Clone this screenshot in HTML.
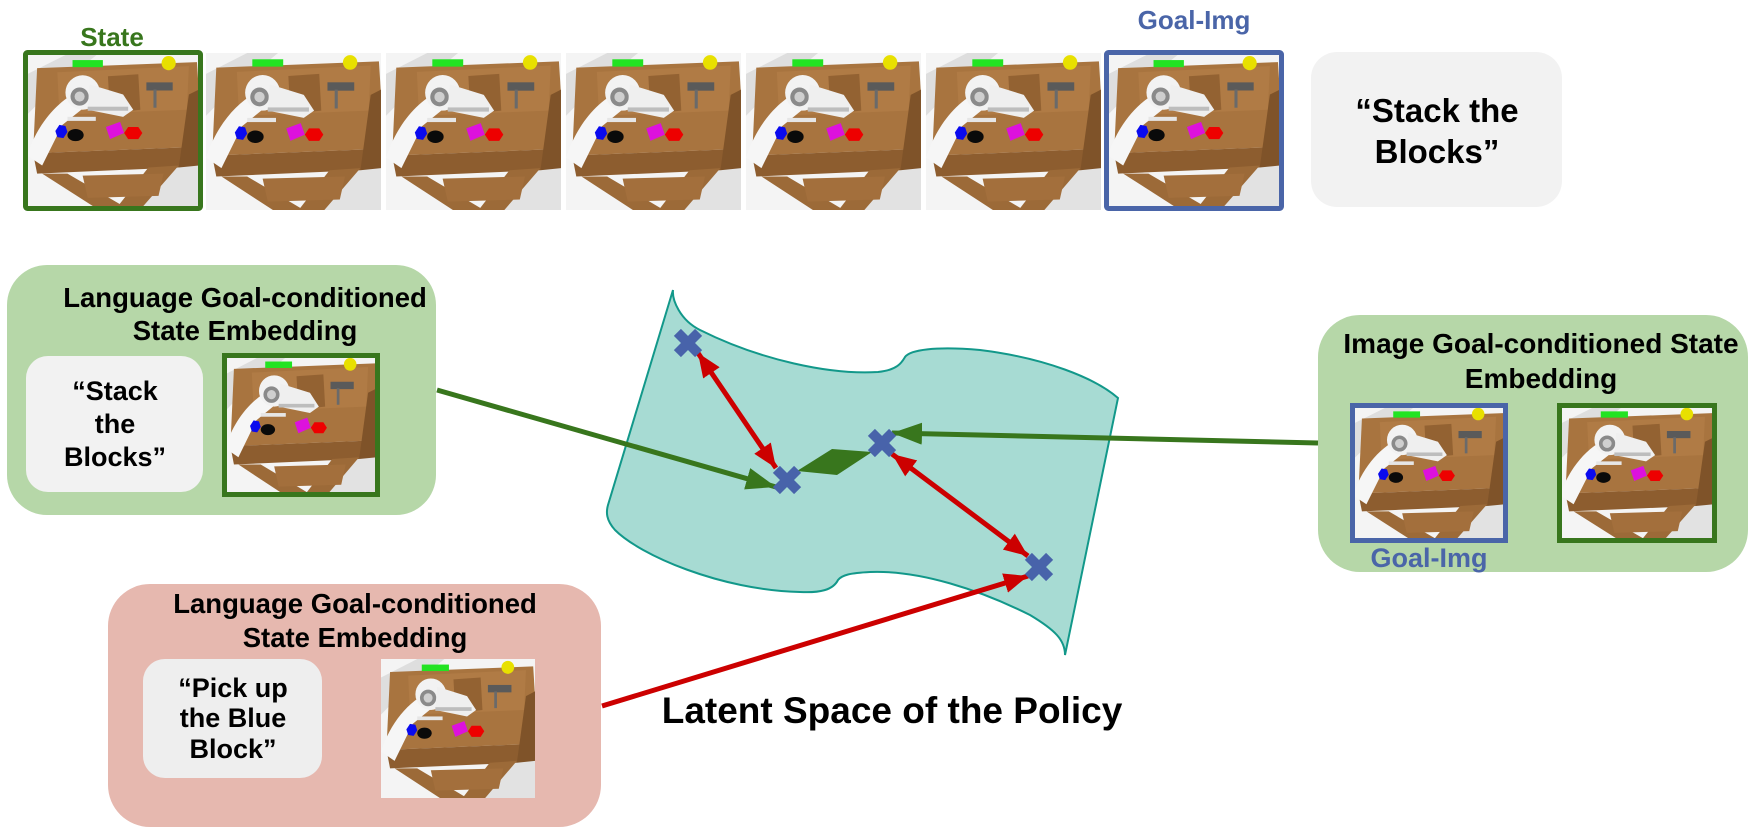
<!DOCTYPE html>
<html><head><meta charset="utf-8"><style>
html,body{margin:0;padding:0;background:#fff;}
svg{display:block;font-family:"Liberation Sans",Arial,sans-serif;font-weight:bold;}
</style></head><body>
<svg width="1757" height="836" viewBox="0 0 1757 836" xmlns="http://www.w3.org/2000/svg">
<defs>
  <g id="scene">
    <rect x="0" y="0" width="170" height="150" fill="#f4f4f4"/>
    <polygon points="0,20 40,0 70,0 20,40 0,60" fill="#dedede"/>
    <polygon points="110,150 150,110 170,110 170,150" fill="#e2e2e2"/>
    <polygon points="10,14 168,8 170,40 160,92 6,98" fill="#a8743f"/>
    <polygon points="30,18 160,12 158,55 32,60" fill="#b07b45"/>
    <polygon points="80,22 110,20 112,55 82,58" fill="#936232"/>
    <polygon points="6,98 160,92 150,112 10,118" fill="#8d5d2f"/>
    <polygon points="15,118 40,118 95,150 65,150" fill="#9c6a38"/>
    <polygon points="120,112 150,110 115,150 90,150" fill="#9c6a38"/>
    <polygon points="55,120 135,118 130,140 60,142" fill="#a36f3c"/>
    <polygon points="160,40 170,35 170,110 150,112" fill="#7f5329"/>
    <rect x="45" y="6" width="30" height="7" fill="#22e322"/>
    <circle cx="140" cy="9" r="7" fill="#e8e000"/>
    <rect x="118" y="28" width="26" height="8" fill="#5a5a5a"/>
    <rect x="125" y="35" width="3" height="18" fill="#6a6a6a"/>
    <path d="M0,100 C10,70 30,45 55,35 L70,42 L35,70 L15,110 Z" fill="#f6f6f6"/>
    <circle cx="55" cy="38" r="17" fill="#f2f2f2"/>
    <circle cx="52" cy="42" r="9" fill="#8a8a8a"/>
    <circle cx="52" cy="42" r="5" fill="#cfcfcf"/>
    <path d="M62,30 L95,40 L105,55 L95,62 L60,55 Z" fill="#efefef"/>
    <rect x="60" y="52" width="40" height="4" fill="#bdbdbd"/>
    <rect x="40" y="62" width="28" height="4" fill="#e6e6e6"/>
    <polygon points="28,76 32,70 38,71 40,77 36,83 30,82" fill="#0a0aee"/>
    <ellipse cx="48" cy="80" rx="8" ry="6" fill="#0a0a0a"/>
    <polygon points="78,72 92,67 96,78 82,84" fill="#dd11dd"/>
    <polygon points="96,78 100,72 110,72 114,78 110,84 100,84" fill="#ee0000"/>
  </g>
  <marker id="redHead" markerUnits="userSpaceOnUse" markerWidth="24" markerHeight="20" refX="24" refY="10" orient="auto-start-reverse">
    <path d="M0,0 L24,10 L0,20 z" fill="#cc0000"/>
  </marker>
  <marker id="greenHead" markerUnits="userSpaceOnUse" markerWidth="30" markerHeight="22" refX="30" refY="11" orient="auto">
    <path d="M0,0 L30,11 L0,22 z" fill="#38761d"/>
  </marker>
</defs>

<g>
  <svg x="27" y="54" width="172" height="152" viewBox="0 0 170 150" preserveAspectRatio="none"><use href="#scene"/></svg>
  <rect x="25.5" y="52.5" width="175" height="156" fill="none" stroke="#38761d" stroke-width="5" rx="2"/>
  <svg x="206" y="53" width="175" height="157" viewBox="0 0 170 150" preserveAspectRatio="none"><use href="#scene"/></svg>
  <svg x="386" y="53" width="175" height="157" viewBox="0 0 170 150" preserveAspectRatio="none"><use href="#scene"/></svg>
  <svg x="566" y="53" width="175" height="157" viewBox="0 0 170 150" preserveAspectRatio="none"><use href="#scene"/></svg>
  <svg x="746" y="53" width="175" height="157" viewBox="0 0 170 150" preserveAspectRatio="none"><use href="#scene"/></svg>
  <svg x="926" y="53" width="175" height="157" viewBox="0 0 170 150" preserveAspectRatio="none"><use href="#scene"/></svg>
  <svg x="1108" y="54" width="172" height="152" viewBox="0 0 170 150" preserveAspectRatio="none"><use href="#scene"/></svg>
  <rect x="1106.5" y="52.5" width="175" height="156" fill="none" stroke="#4a65a8" stroke-width="5" rx="2"/>
</g>
<text x="112" y="46" font-size="26" fill="#38761d" text-anchor="middle">State</text>
<text x="1194" y="29" font-size="26" fill="#4a65a8" text-anchor="middle">Goal-Img</text>

<g>
  <rect x="1311" y="52" width="251" height="155" rx="26" fill="#f2f2f2"/>
  <text x="1437" y="122" font-size="33" text-anchor="middle" fill="#000">“Stack the</text>
  <text x="1437" y="163" font-size="33" text-anchor="middle" fill="#000">Blocks”</text>
</g>

<path
  d="M673,290 C672,300 680,320 700,330 C760,360 830,375 878,372 C898,370 902,362 905,357 C910,350 935,346 980,350 C1045,358 1095,378 1118,398 L1065,655 C1065,640 1055,630 1030,615 C980,590 920,570 870,572 C850,573 842,575 838,580 C833,590 820,593 800,592 C720,590 640,555 615,530 C606,520 606,512 608,505 Z"
  fill="#a7dbd3" stroke="#12988a" stroke-width="2"/>

<g>
  <rect x="7" y="265" width="429" height="250" rx="40" fill="#b6d7a8"/>
  <text x="245" y="307" font-size="27.5" text-anchor="middle">Language Goal-conditioned</text>
  <text x="245" y="340" font-size="27.5" text-anchor="middle">State Embedding</text>
  <rect x="26" y="356" width="177" height="136" rx="22" fill="#f2f2f2"/>
  <text x="115" y="400" font-size="27" text-anchor="middle">“Stack</text>
  <text x="115" y="433" font-size="27" text-anchor="middle">the</text>
  <text x="115" y="466" font-size="27" text-anchor="middle">Blocks”</text>
  <svg x="225" y="356" width="152" height="138" viewBox="0 0 170 150" preserveAspectRatio="none"><use href="#scene"/></svg>
  <rect x="224.5" y="355.5" width="153" height="139" fill="none" stroke="#38761d" stroke-width="5"/>
</g>

<g>
  <rect x="1318" y="315" width="430" height="257" rx="42" fill="#b6d7a8"/>
  <text x="1541" y="353" font-size="28" text-anchor="middle">Image Goal-conditioned State</text>
  <text x="1541" y="388" font-size="28" text-anchor="middle">Embedding</text>
  <svg x="1353" y="406" width="152" height="134" viewBox="0 0 170 150" preserveAspectRatio="none"><use href="#scene"/></svg>
  <rect x="1352.5" y="405.5" width="153" height="135" fill="none" stroke="#4a65a8" stroke-width="5"/>
  <svg x="1560" y="406" width="154" height="134" viewBox="0 0 170 150" preserveAspectRatio="none"><use href="#scene"/></svg>
  <rect x="1559.5" y="405.5" width="155" height="135" fill="none" stroke="#38761d" stroke-width="5"/>
  <text x="1429" y="567" font-size="27" fill="#4a65a8" text-anchor="middle">Goal-Img</text>
</g>

<g>
  <rect x="108" y="584" width="493" height="243" rx="42" fill="#e6b8af"/>
  <text x="355" y="613" font-size="27.5" text-anchor="middle">Language Goal-conditioned</text>
  <text x="355" y="647" font-size="27.5" text-anchor="middle">State Embedding</text>
  <rect x="143" y="659" width="179" height="119" rx="22" fill="#eeeeee"/>
  <text x="233" y="697" font-size="27" text-anchor="middle">“Pick up</text>
  <text x="233" y="727" font-size="27" text-anchor="middle">the Blue</text>
  <text x="233" y="758" font-size="27" text-anchor="middle">Block”</text>
  <svg x="381" y="659" width="154" height="139" viewBox="0 0 170 150" preserveAspectRatio="none"><use href="#scene"/></svg>
</g>

<line x1="437" y1="390" x2="776" y2="487" stroke="#38761d" stroke-width="5" marker-end="url(#greenHead)"/>
<line x1="1318" y1="443" x2="892" y2="433" stroke="#38761d" stroke-width="5" marker-end="url(#greenHead)"/>
<polygon points="797,471 832,449 872,452 837,475" fill="#38761d"/>
<line x1="602" y1="706" x2="1028" y2="576" stroke="#cc0000" stroke-width="5" marker-end="url(#redHead)"/>
<line x1="698" y1="353" x2="776" y2="468" stroke="#cc0000" stroke-width="5" marker-start="url(#redHead)" marker-end="url(#redHead)"/>
<line x1="892" y1="454" x2="1028" y2="556" stroke="#cc0000" stroke-width="5" marker-start="url(#redHead)" marker-end="url(#redHead)"/>

<g fill="#4863aa">
  <g transform="translate(688,343) rotate(45)"><rect x="-15" y="-5" width="30" height="10"/><rect x="-5" y="-15" width="10" height="30"/></g>
  <g transform="translate(787,480) rotate(45)"><rect x="-15" y="-5" width="30" height="10"/><rect x="-5" y="-15" width="10" height="30"/></g>
  <g transform="translate(882,443) rotate(45)"><rect x="-15" y="-5" width="30" height="10"/><rect x="-5" y="-15" width="10" height="30"/></g>
  <g transform="translate(1039,567) rotate(45)"><rect x="-15" y="-5" width="30" height="10"/><rect x="-5" y="-15" width="10" height="30"/></g>
</g>

<text x="892" y="723" font-size="37" text-anchor="middle">Latent Space of the Policy</text>
</svg>
</body></html>
